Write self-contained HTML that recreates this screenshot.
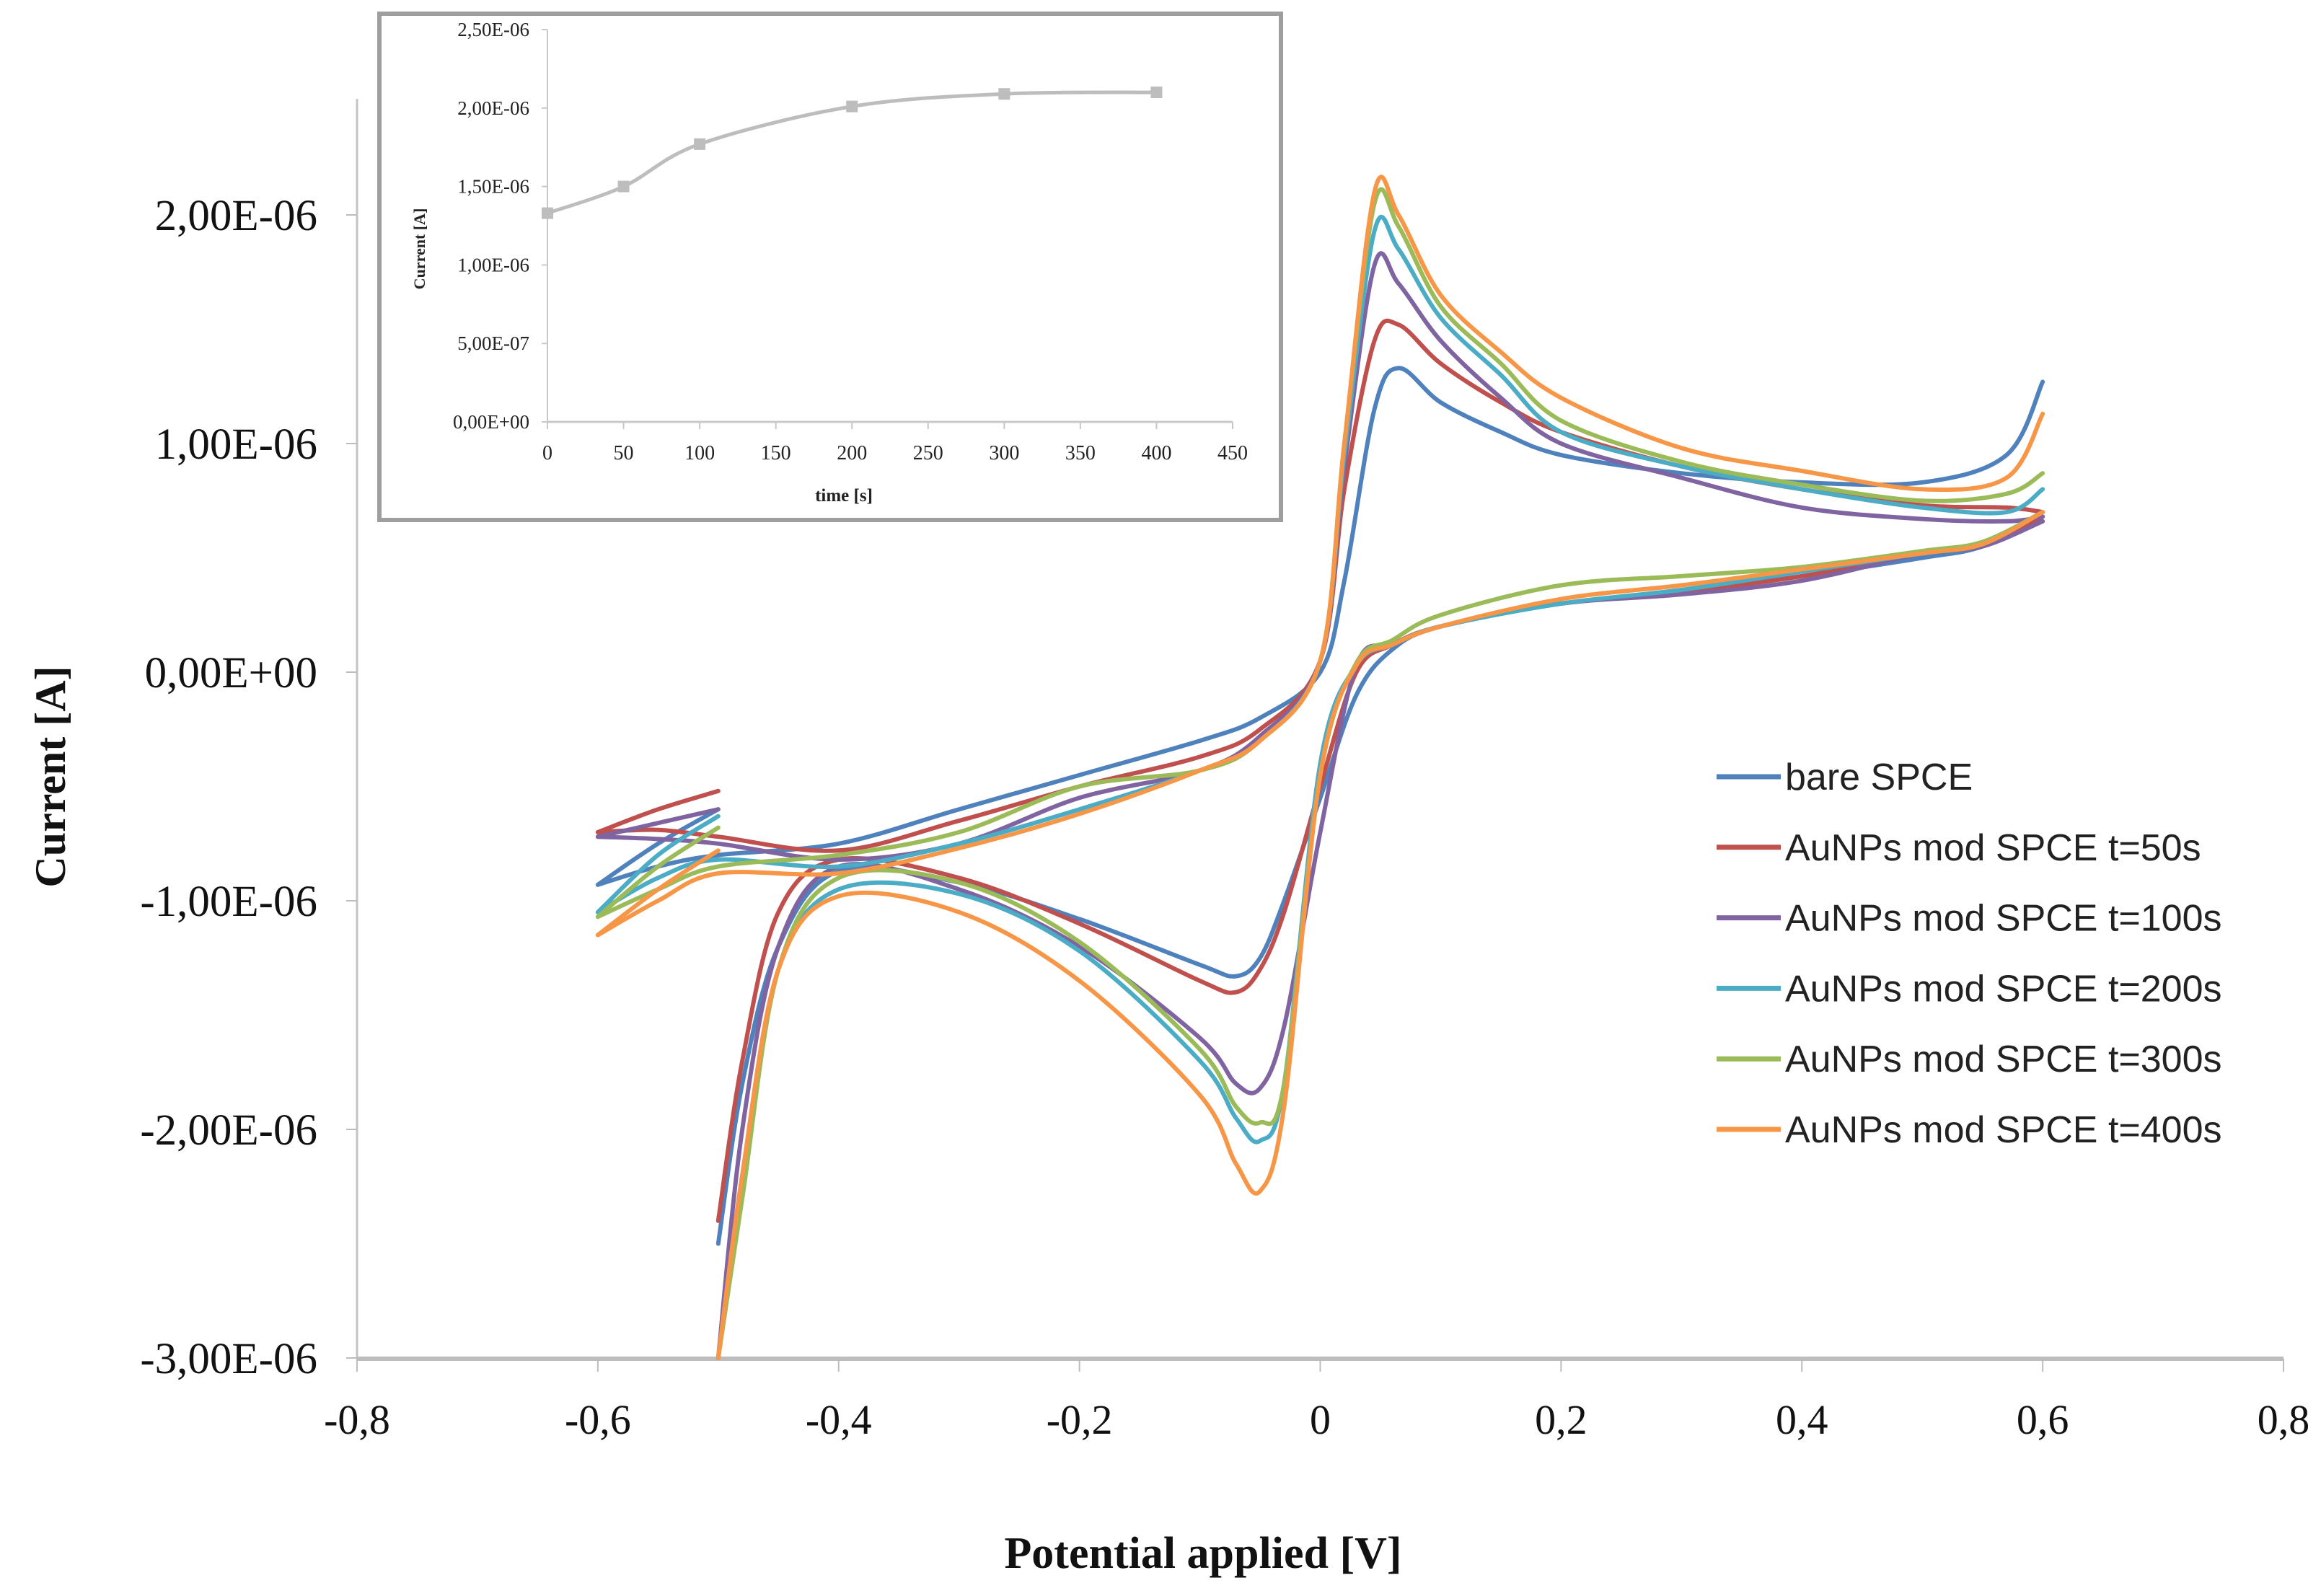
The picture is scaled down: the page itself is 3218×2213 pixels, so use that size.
<!DOCTYPE html>
<html><head><meta charset="utf-8"><style>
html,body{margin:0;padding:0;background:#fff;}
svg{display:block;}
</style></head><body>
<svg id="chart" xmlns="http://www.w3.org/2000/svg" width="3218" height="2213" viewBox="0 0 3218 2213">
<rect width="3218" height="2213" fill="#fff"/>
<g id="axes"></g>
<g id="series"></g>
<g id="legend"></g>
<g id="inset"></g>
</svg>
<script>
const NS="http://www.w3.org/2000/svg";
// ---- main chart data ----
const xTicks=[-0.8,-0.6,-0.4,-0.2,0,0.2,0.4,0.6,0.8];
const xTickLabels=["-0,8","-0,6","-0,4","-0,2","0","0,2","0,4","0,6","0,8"];
const yTicks=[2e-6,1e-6,0,-1e-6,-2e-6,-3e-6];
const yTickLabels=["2,00E-06","1,00E-06","0,00E+00","-1,00E-06","-2,00E-06","-3,00E-06"];
const seriesNames=["bare SPCE","AuNPs mod SPCE t=50s","AuNPs mod SPCE t=100s","AuNPs mod SPCE t=200s","AuNPs mod SPCE t=300s","AuNPs mod SPCE t=400s"];
const seriesColors=["#4f81bd","#c0504d","#8064a2","#4bacc6","#9bbb59","#f79646"];
// potential sweep (V): start, to -0.6, forward to 0.6, reverse to -0.5
const potential=[-0.5,-0.55,-0.6,-0.55,-0.5,-0.4,-0.3,-0.2,-0.1,-0.05,0,0.02,0.045,0.065,0.1,0.15,0.2,0.3,0.4,0.5,0.57,0.6,
 0.6,0.55,0.5,0.4,0.3,0.2,0.1,0.06,0.03,0,-0.03,-0.05,-0.07,-0.1,-0.2,-0.3,-0.4,-0.45,-0.48,-0.5];
// currents in µA
const bareSPCE=[-0.6,-0.75,-0.93,-0.85,-0.8,-0.75,-0.6,-0.45,-0.3,-0.2,0.0,0.4,1.15,1.33,1.18,1.05,0.95,0.87,0.83,0.83,0.95,1.27,
 0.68,0.55,0.5,0.42,0.35,0.3,0.2,0.1,-0.1,-0.55,-1.0,-1.25,-1.33,-1.28,-1.08,-0.92,-0.87,-1.2,-1.8,-2.5];
const t50=[-0.52,-0.6,-0.7,-0.69,-0.72,-0.78,-0.65,-0.5,-0.37,-0.25,0.05,0.8,1.45,1.52,1.35,1.18,1.05,0.9,0.8,0.73,0.72,0.7,
 0.68,0.56,0.52,0.42,0.35,0.3,0.2,0.12,0.0,-0.5,-1.05,-1.3,-1.4,-1.35,-1.1,-0.9,-0.82,-1.05,-1.7,-2.4];
const t100=[-0.6,-0.66,-0.72,-0.73,-0.75,-0.82,-0.75,-0.55,-0.43,-0.28,0.05,0.9,1.78,1.7,1.45,1.2,1.0,0.85,0.72,0.67,0.66,0.68,
 0.66,0.55,0.52,0.4,0.34,0.3,0.2,0.12,0.03,-0.7,-1.55,-1.82,-1.8,-1.6,-1.2,-0.95,-0.85,-1.2,-2.0,-3.0];
const t200=[-0.63,-0.8,-1.05,-0.9,-0.82,-0.85,-0.75,-0.6,-0.43,-0.3,0.05,0.95,1.93,1.85,1.55,1.3,1.05,0.9,0.8,0.72,0.7,0.8,
 0.7,0.56,0.52,0.44,0.36,0.3,0.2,0.12,0.03,-0.4,-1.8,-2.05,-1.95,-1.7,-1.22,-0.97,-0.95,-1.3,-2.2,-3.0];
const t300=[-0.68,-0.85,-1.07,-0.95,-0.85,-0.8,-0.7,-0.5,-0.43,-0.3,0.05,1.0,2.05,1.95,1.6,1.35,1.1,0.92,0.82,0.75,0.78,0.87,
 0.7,0.57,0.53,0.46,0.42,0.38,0.25,0.14,0.04,-0.45,-1.8,-1.97,-1.9,-1.65,-1.18,-0.92,-0.9,-1.3,-2.3,-3.0];
const t400=[-0.78,-0.95,-1.15,-1.0,-0.88,-0.88,-0.77,-0.62,-0.43,-0.3,0.05,1.0,2.1,2.0,1.65,1.4,1.2,0.98,0.88,0.8,0.85,1.13,
 0.7,0.56,0.52,0.45,0.38,0.32,0.2,0.12,0.03,-0.45,-1.9,-2.27,-2.15,-1.85,-1.35,-1.05,-0.98,-1.3,-2.2,-3.0];
const seriesValues=[bareSPCE,t50,t100,t200,t300,t400];
// ---- inset data ----
const insetTimes=[0,50,100,200,300,400];
const insetCurrents=[1.33e-6,1.5e-6,1.77e-6,2.01e-6,2.09e-6,2.1e-6];
const insetXTicks=[0,50,100,150,200,250,300,350,400,450];
const insetYTicks=[0,5e-7,1e-6,1.5e-6,2e-6,2.5e-6];
const insetYTickLabels=["0,00E+00","5,00E-07","1,00E-06","1,50E-06","2,00E-06","2,50E-06"];

function X(v){return 495+(v+0.8)/1.6*2671;}
function Y(v){return 932-v/1e-6*317;}
function mk(tag,attrs,parent){const e=document.createElementNS(NS,tag);for(const k in attrs)e.setAttribute(k,attrs[k]);parent.appendChild(e);return e;}
const axes=document.getElementById('axes');
const serif='"Liberation Serif", serif';
let e;
e=mk('line',{x1:495,y1:137,x2:495,y2:1884,stroke:'#c4c4c4','stroke-width':3},axes);


e=mk('line',{x1:495,y1:1884,x2:3166,y2:1884,stroke:'#bdbdbd','stroke-width':6},axes);


xTicks.forEach((t,i)=>{
  mk('line',{x1:X(t),y1:1884,x2:X(t),y2:1902,stroke:'#bdbdbd','stroke-width':2},axes);
  const tx=mk('text',{x:X(t),y:1988,'text-anchor':'middle','font-family':serif,'font-size':58,fill:'#111'},axes);
  tx.textContent=xTickLabels[i];
  
  
});
yTicks.forEach((t,i)=>{
  mk('line',{x1:480,y1:Y(t),x2:495,y2:Y(t),stroke:'#bdbdbd','stroke-width':2},axes);
  const tx=mk('text',{x:440,y:Y(t)+21,'text-anchor':'end','font-family':serif,'font-size':61,fill:'#111'},axes);
  tx.textContent=yTickLabels[i];
  
  
});
e=mk('text',{x:0,y:0,transform:'translate(90,1077) rotate(-90)','text-anchor':'middle','font-family':serif,'font-weight':'bold','font-size':60,fill:'#111'},axes);
e.textContent='Current [A]';


e=mk('text',{x:1668,y:2174,'text-anchor':'middle','font-family':serif,'font-weight':'bold','font-size':62,fill:'#111'},axes);
e.textContent='Potential applied [V]';



function crPath(pts){
  let d='M'+pts[0][0].toFixed(1)+','+pts[0][1].toFixed(1);
  for(let i=0;i<pts.length-1;i++){
    const p0=pts[Math.max(0,i-1)],p1=pts[i],p2=pts[i+1],p3=pts[Math.min(pts.length-1,i+2)];
    const c1=[p1[0]+(p2[0]-p0[0])/6,p1[1]+(p2[1]-p0[1])/6];
    const c2=[p2[0]-(p3[0]-p1[0])/6,p2[1]-(p3[1]-p1[1])/6];
    d+=' C'+c1[0].toFixed(1)+','+c1[1].toFixed(1)+' '+c2[0].toFixed(1)+','+c2[1].toFixed(1)+' '+p2[0].toFixed(1)+','+p2[1].toFixed(1);
  }
  return d;
}
const sg=document.getElementById('series');
const cut=[[0,3],[2,22],[22,42]];
seriesValues.forEach((vals,s)=>{
  const g=mk('g',{},sg);
  
  
  cut.forEach(([a,b])=>{
    const pts=[];
    for(let i=a;i<b;i++){const yv=Math.max(vals[i]*1e-6,-3.02e-6);pts.push([X(potential[i]),Y(yv)]);}
    const p=mk('path',{d:crPath(pts),fill:'none',stroke:seriesColors[s],'stroke-width':6,'stroke-linejoin':'round','stroke-linecap':'round'},g);
    
    
  });
});
const lg=document.getElementById('legend');
seriesNames.forEach((n,i)=>{
  const y=1077+i*97.8;
  const g=mk('g',{},lg);
  
  
  mk('line',{x1:2380,y1:y,x2:2469,y2:y,stroke:seriesColors[i],'stroke-width':7},g);
  const t=mk('text',{x:2475,y:y+18,'font-family':'"Liberation Sans", sans-serif','font-size':52,fill:'#222'},g);
  t.textContent=n;
});
// inset
const ig=document.getElementById('inset');


mk('rect',{x:526,y:19,width:1250,height:702,fill:'#fff',stroke:'#9e9e9e','stroke-width':6},ig);
function IX(v){return 759+v/450*950;}
function IY(v){return 585-v/2.5e-6*544;}
mk('line',{x1:759,y1:IY(2.5e-6),x2:759,y2:585,stroke:'#c8c8c8','stroke-width':2},ig);
mk('line',{x1:759,y1:585,x2:1709,y2:585,stroke:'#c8c8c8','stroke-width':3},ig);
insetXTicks.forEach(t=>{
  mk('line',{x1:IX(t),y1:585,x2:IX(t),y2:595,stroke:'#c8c8c8','stroke-width':2},ig);
  const tx=mk('text',{x:IX(t),y:637,'text-anchor':'middle','font-family':serif,'font-size':28,fill:'#222'},ig);
  tx.textContent=String(t);
  
  
});
insetYTicks.forEach((t,i)=>{
  mk('line',{x1:751,y1:IY(t),x2:759,y2:IY(t),stroke:'#c8c8c8','stroke-width':2},ig);
  const tx=mk('text',{x:734,y:IY(t)+9,'text-anchor':'end','font-family':serif,'font-size':27,fill:'#222'},ig);
  tx.textContent=insetYTickLabels[i];
  
  
});
e=mk('text',{x:0,y:0,transform:'translate(589,345) rotate(-90)','text-anchor':'middle','font-family':serif,'font-weight':'bold','font-size':22,fill:'#222'},ig);
e.textContent='Current [A]';


e=mk('text',{x:1170,y:695,'text-anchor':'middle','font-family':serif,'font-weight':'bold','font-size':25,fill:'#222'},ig);
e.textContent='time [s]';


const ipts=insetTimes.map((t,i)=>[IX(t),IY(insetCurrents[i])]);
e=mk('path',{d:crPath(ipts),fill:'none',stroke:'#bdbdbd','stroke-width':5},ig);


ipts.forEach(p=>{
  const r=mk('rect',{x:p[0]-8,y:p[1]-8,width:16,height:16,fill:'#bdbdbd'},ig);
  
  
});
</script>
</body></html>
